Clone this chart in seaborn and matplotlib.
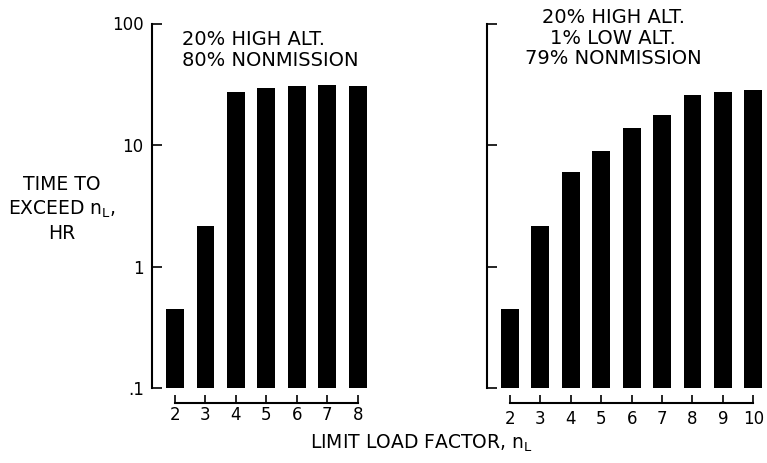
import matplotlib
matplotlib.use("Agg")
import matplotlib.pyplot as plt
import seaborn as sns
import pandas as pd

# valores (horas para exceder n_L)
load_left = [2, 3, 4, 5, 6, 7, 8]
hours_left = [0.45, 2.17, 27.2, 29.6, 30.5, 30.9, 30.7]

load_right = [2, 3, 4, 5, 6, 7, 8, 9, 10]
hours_right = [0.45, 2.16, 6.0, 9.0, 13.7, 17.6, 25.9, 27.4, 28.3]

ytick_vals = [0.1, 1, 10, 100]
ytick_labels = [".1", "1", "10", "100"]

note_left = "20% HIGH ALT.\n80% NONMISSION"
note_right = "20% HIGH ALT.\n1% LOW ALT.\n79% NONMISSION"

sns.set_style("ticks")
plt.rcParams["font.family"] = ["DejaVu Sans"]
plt.rcParams["mathtext.default"] = "regular"
plt.rcParams["text.color"] = "black"

fig = plt.figure(figsize=(7.67, 4.63), dpi=100)
ax1 = fig.add_axes([152 / 767, 75 / 463, 224 / 767, 364.5 / 463])
ax2 = fig.add_axes([487 / 767, 75 / 463, 280 / 767, 364.5 / 463])

df_left = pd.DataFrame({"n": load_left, "t": hours_left})
df_right = pd.DataFrame({"n": load_right, "t": hours_right})

for ax, df, xlim, pad in [(ax1, df_left, (1.243, 8.6), 2), (ax2, df_right, (1.243, 10.45), 5)]:
    sns.barplot(data=df, x="n", y="t", native_scale=True, width=0.59,
                color="black", edgecolor="none", saturation=1, ax=ax)
    ax.set_yscale("log")
    ax.set_ylim(0.1, 100)
    ax.set_xlim(*xlim)
    ax.set_xticks(df["n"])
    ax.set_xticklabels([str(v) for v in df["n"]])
    ax.set_yticks(ytick_vals)
    ax.minorticks_off()
    ax.set_xlabel("")
    ax.set_ylabel("")
    sns.despine(ax=ax, offset={"bottom": 11, "left": 0})
    ax.spines["bottom"].set_bounds(df["n"].min(), df["n"].max())
    ax.spines["left"].set_bounds(0.1, 100)
    for s in ["bottom", "left"]:
        ax.spines[s].set_linewidth(1.5)
        ax.spines[s].set_color("black")
    ax.tick_params(axis="x", direction="in", length=6, width=1.2, pad=pad,
                   labelsize=12, colors="black")
    ax.tick_params(axis="y", direction="in", length=7, width=1.2, pad=6,
                   labelsize=12, colors="black")

ax1.set_yticklabels(ytick_labels)
ax2.set_yticklabels([])

ax1.text((182 - 152) / 224, 0.927, note_left, transform=ax1.transAxes,
         ha="left", va="center", fontsize=14, linespacing=1.1, clip_on=False)
ax2.text((613 - 487) / 280, 0.96, note_right, transform=ax2.transAxes,
         ha="center", va="center", multialignment="center", fontsize=14,
         linespacing=1.1, clip_on=False)

fig.text(62 / 767, 1 - 209 / 463, "TIME TO\nEXCEED n$_{L}$,\nHR",
         ha="center", va="center", multialignment="center", fontsize=13.5,
         linespacing=1.3)
fig.text(421 / 767, 1 - 449 / 463, "LIMIT LOAD FACTOR, n$_{L}$",
         ha="center", va="baseline", fontsize=13.5)

plt.savefig("out.png", dpi=100)
